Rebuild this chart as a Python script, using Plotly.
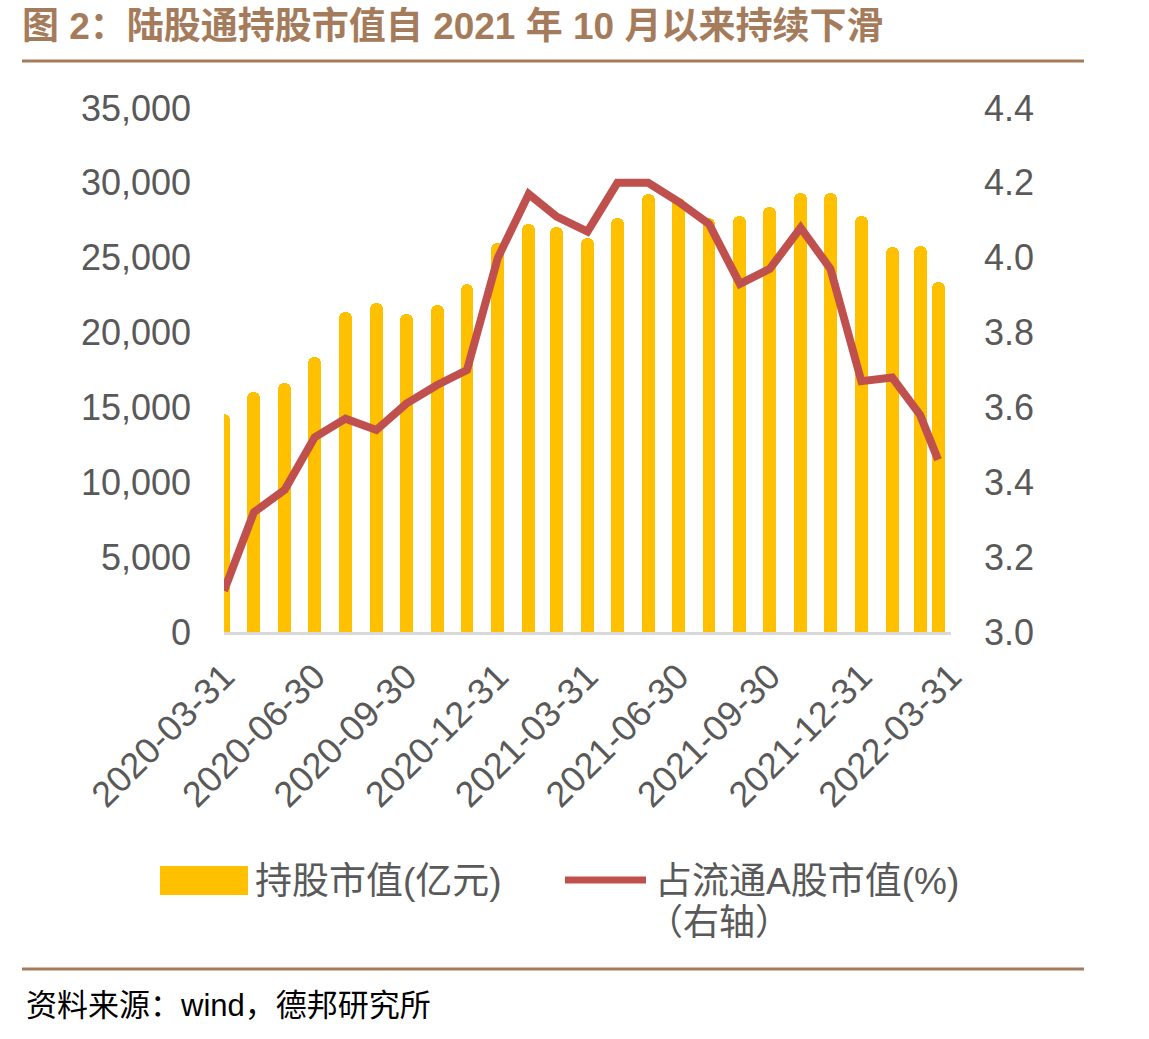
import plotly.graph_objects as go

# ---------------- data ----------------
dates = ['2020-03-31', '2020-04-30', '2020-05-31', '2020-06-30', '2020-07-31', '2020-08-31',
         '2020-09-30', '2020-10-31', '2020-11-30', '2020-12-31', '2021-01-31', '2021-02-28',
         '2021-03-31', '2021-04-30', '2021-05-31', '2021-06-30', '2021-07-31', '2021-08-31',
         '2021-09-30', '2021-10-31', '2021-11-30', '2021-12-31', '2022-01-31', '2022-02-28',
         '2022-03-18']
holdings = [14560, 16010, 16650, 18350, 21350, 21950, 21240, 21840, 23230, 25960, 27230, 27070,
            26340, 27630, 29240, 29010, 27680, 27810, 28370, 29300, 29300, 27810, 25700, 25780,
            23360]
ratio = [3.11, 3.32, 3.38, 3.52, 3.57, 3.54, 3.61, 3.66, 3.70, 4.00, 4.17, 4.11,
         4.07, 4.20, 4.20, 4.15, 4.09, 3.93, 3.97, 4.08, 3.97, 3.67, 3.68, 3.58,
         3.46]
tick_dates = ['2020-03-31', '2020-06-30', '2020-09-30', '2020-12-31', '2021-03-31',
              '2021-06-30', '2021-09-30', '2021-12-31', '2022-03-31']
bar_name = '持股市值(亿元)'
line_name = '占流通A股市值(%)'
line_name2 = '（右轴）'
title_text = '图 2：陆股通持股市值自 2021 年 10 月以来持续下滑'
source_text = '资料来源：wind，德邦研究所'

# ---------------- layout helpers ----------------
W, H = 1149, 1039
PL, PR, PT, PB = 224, 951, 108, 632


def px(x):
    return (x - PL) / (PR - PL)


def py(y):
    return (PB - y) / (PB - PT)


BROWN = '#a57c5b'
GREY_TXT = '#595959'
BAR_C = '#ffc000'
LINE_C = '#c0504d'
FONT = 'Liberation Sans, Noto Sans CJK SC, sans-serif'
TICK_SIZE = 36

fig = go.Figure()
fig.add_trace(go.Bar(
    x=dates, y=holdings, name=bar_name, marker=dict(color=BAR_C, cornerradius=6, line=dict(width=0)),
    width=13 * 86400000, yaxis='y', showlegend=False))
fig.add_trace(go.Scatter(
    x=dates, y=ratio, name=line_name, mode='lines',
    line=dict(color=LINE_C, width=8), yaxis='y2', showlegend=False))

shapes = [
    dict(type='line', xref='paper', yref='paper', x0=px(22), x1=px(1084), y0=py(61), y1=py(61),
         line=dict(color=BROWN, width=3)),
    dict(type='line', xref='paper', yref='paper', x0=px(22), x1=px(1084), y0=py(969), y1=py(969),
         line=dict(color=BROWN, width=3)),
    dict(type='rect', xref='paper', yref='paper', x0=px(160), x1=px(248), y0=py(895), y1=py(866),
         fillcolor=BAR_C, line=dict(width=0)),
    dict(type='line', xref='paper', yref='paper', x0=px(565), x1=px(646), y0=py(880), y1=py(880),
         line=dict(color=LINE_C, width=7)),
]

annotations = [
    dict(text='<b>' + title_text + '</b>', xref='paper', yref='paper', x=px(20), y=py(26),
         xanchor='left', yanchor='middle', showarrow=False,
         font=dict(family=FONT, size=37, color=BROWN)),
    dict(text=source_text, xref='paper', yref='paper', x=px(24), y=py(1005),
         xanchor='left', yanchor='middle', showarrow=False,
         font=dict(family=FONT, size=31, color='#000000')),
    dict(text=bar_name, xref='paper', yref='paper', x=px(253), y=py(881),
         xanchor='left', yanchor='middle', showarrow=False,
         font=dict(family=FONT, size=37, color=GREY_TXT)),
    dict(text=line_name, xref='paper', yref='paper', x=px(653), y=py(881),
         xanchor='left', yanchor='middle', showarrow=False,
         font=dict(family=FONT, size=37, color=GREY_TXT)),
    dict(text=line_name2, xref='paper', yref='paper', x=px(645), y=py(922),
         xanchor='left', yanchor='middle', showarrow=False,
         font=dict(family=FONT, size=36, color=GREY_TXT)),
]

fig.update_layout(
    width=W, height=H, autosize=False,
    margin=dict(l=PL, r=W - PR, t=PT, b=H - PB, pad=0),
    paper_bgcolor='white', plot_bgcolor='white',
    bargap=0,
    xaxis=dict(type='date', range=['2020-03-31', '2022-03-31'],
               tickmode='array', tickvals=tick_dates, ticktext=tick_dates,
               tickangle=-45, ticks='', showgrid=False, zeroline=False,
               showline=True, linecolor='#d9d9d9', linewidth=3,
               tickfont=dict(family=FONT, size=TICK_SIZE, color=GREY_TXT),
               ticklabelstandoff=6),
    yaxis=dict(range=[0, 35000], dtick=5000, tickformat=',', showgrid=False, zeroline=False,
               showline=False, ticks='',
               tickfont=dict(family=FONT, size=TICK_SIZE, color=GREY_TXT),
               ticklabelstandoff=32),
    yaxis2=dict(range=[3.0, 4.4], dtick=0.2, tickformat='.1f', overlaying='y', side='right',
                showgrid=False, zeroline=False, showline=False, ticks='',
                tickfont=dict(family=FONT, size=TICK_SIZE, color=GREY_TXT),
                ticklabelstandoff=32),
    shapes=shapes, annotations=annotations,
)

fig.write_html('out.html')
